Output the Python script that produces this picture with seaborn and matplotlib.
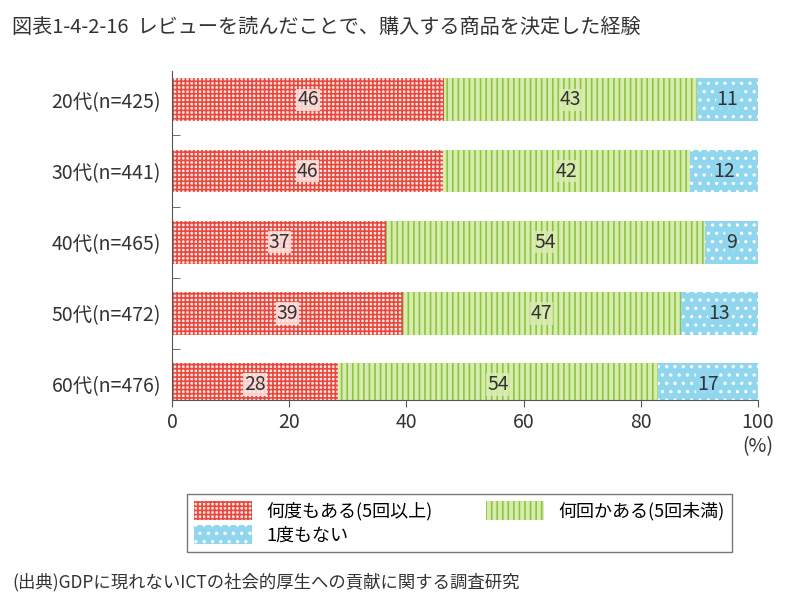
import matplotlib
matplotlib.use("Agg")
import matplotlib.pyplot as plt
import seaborn as sns
import pandas as pd
import numpy as np

plt.rcParams['font.family'] = ['Noto Sans CJK JP']
plt.rcParams['hatch.linewidth'] = 1.2

categories = ["20代(n=425)", "30代(n=441)", "40代(n=465)", "50代(n=472)", "60代(n=476)"]
often = [46.4, 46.2, 36.6, 39.4, 28.3]
sometimes = [43.2, 42.2, 54.3, 47.4, 54.6]
never = [10.4, 11.6, 9.1, 13.2, 17.1]
labels_often = [46, 46, 37, 39, 28]
labels_some = [43, 42, 54, 47, 54]
labels_never = [11, 12, 9, 13, 17]
series_names = ["何度もある(5回以上)", "何回かある(5回未満)", "1度もない"]

df = pd.DataFrame({"cat": categories, "a": often, "b": sometimes, "c": never})

fig = plt.figure(figsize=(8, 6.1), dpi=100)
ax = fig.add_axes([0.215, 0.344, 0.7325, 0.539])

styles = [("#fde6e3", "#e8493f", "++++"), ("#d8ecb0", "#8cc63f", "|||"), ("#8fd6ee", "white", "..")]
left = np.zeros(len(categories))
handles = []
for col, lab, (fc, hc, h), txt in zip(["a", "b", "c"], series_names, styles,
                                      [labels_often, labels_some, labels_never]):
    sns.barplot(data=df.assign(v=df[col]), y="cat", x="v", left=left, orient="h",
                color=fc, ax=ax, width=0.6, saturation=1, errorbar=None)
    bars = ax.containers[-1]
    for b, t in zip(bars, txt):
        b.set_hatch(h); b.set_edgecolor(hc); b.set_linewidth(0)
        ax.text(b.get_x() + b.get_width() / 2, b.get_y() + b.get_height() / 2, str(t),
                ha="center", va="center", fontsize=14, color="#333333",
                bbox=dict(facecolor=fc, edgecolor="none", pad=0.5, alpha=0.85))
    handles.append(plt.Rectangle((0, 0), 1, 1, facecolor=fc, edgecolor=hc, hatch=h, linewidth=0))
    left = left + np.array(df[col])

ax.set_xlim(0, 100)
ax.set_ylim(4.22, -0.4)
ax.set_xticks([0, 20, 40, 60, 80, 100])
ax.set_xticklabels(["0", "20", "40", "60", "80", "100"], fontsize=14, color="#333333")
ax.set_yticks(range(5))
ax.set_yticklabels(categories, fontsize=14, color="#333333")
ax.set_yticks([0.5, 1.5, 2.5, 3.5], minor=True)
ax.tick_params(axis="y", which="major", length=0, pad=8)
ax.tick_params(axis="y", which="minor", length=6, direction="in", color="#555555")
ax.tick_params(axis="x", length=5, color="#555555")
ax.set_xlabel(""); ax.set_ylabel("")
for s in ["top", "right"]:
    ax.spines[s].set_visible(False)
for s in ["left", "bottom"]:
    ax.spines[s].set_color("#555555")
ax.text(1.0, -0.11, "(%)", transform=ax.transAxes, ha="center", va="top", fontsize=14, color="#333333")

fig.text(0.015, 0.955, "図表1-4-2-16  レビューを読んだことで、購入する商品を決定した経験",
         fontsize=14.5, color="#333333", va="center")
order = [0, 2, 1]
leg = fig.legend([handles[i] for i in order], [series_names[i] for i in order],
                 loc="upper left", bbox_to_anchor=(0.222, 0.205),
                 ncol=2, fontsize=13, frameon=True, fancybox=False, edgecolor="#555555",
                 handlelength=3.2, handleheight=1.2, columnspacing=3.0, borderpad=0.4, labelspacing=0.25)
fig.text(0.015, 0.045, "(出典)GDPに現れないICTの社会的厚生への貢献に関する調査研究",
         fontsize=12.5, color="#333333", va="center")
fig.savefig("out.png", dpi=100)
